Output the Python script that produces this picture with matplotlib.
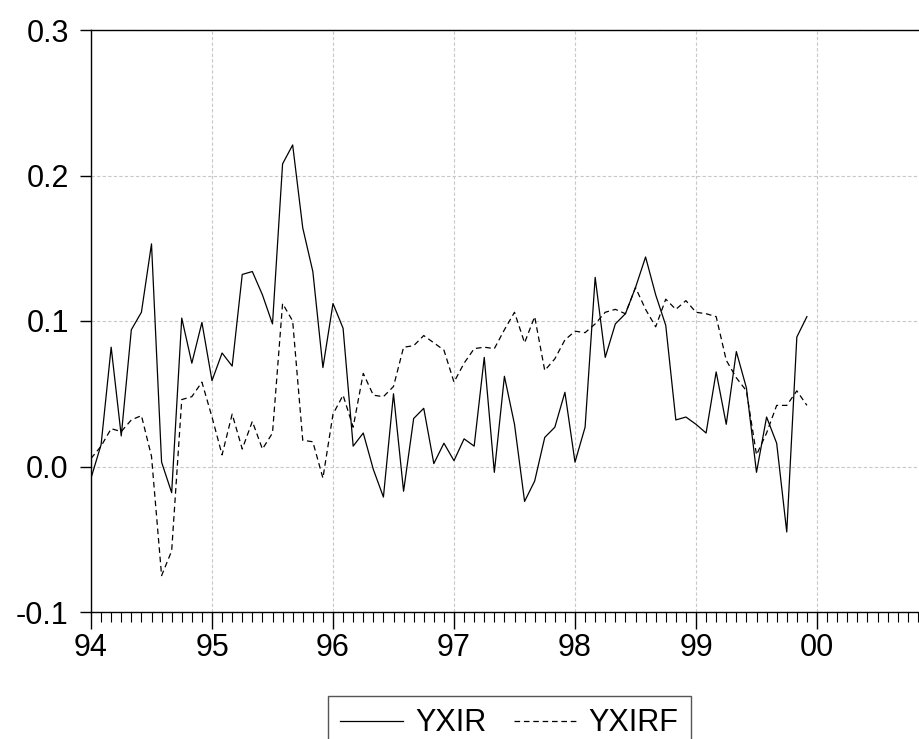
import matplotlib
matplotlib.use("Agg")
import matplotlib.pyplot as plt
import numpy as np
from matplotlib.ticker import FuncFormatter, MultipleLocator

plt.rcParams["font.family"] = ["Liberation Sans", "DejaVu Sans"]

# monthly observations, 1994:01 - 1999:12
start_year = 1994
yxir = [
    -0.008, 0.015, 0.082, 0.021, 0.094, 0.106, 0.153, 0.003, -0.018, 0.102, 0.071, 0.099,
    0.059, 0.078, 0.069, 0.132, 0.134, 0.118, 0.098, 0.208, 0.221, 0.164, 0.134, 0.068,
    0.112, 0.095, 0.014, 0.023, -0.002, -0.021, 0.050, -0.017, 0.033, 0.040, 0.002, 0.016,
    0.004, 0.019, 0.014, 0.075, -0.004, 0.062, 0.029, -0.024, -0.010, 0.020, 0.027, 0.051,
    0.003, 0.027, 0.130, 0.075, 0.098, 0.105, 0.123, 0.144, 0.118, 0.097, 0.032, 0.034,
    0.029, 0.023, 0.065, 0.029, 0.079, 0.054, -0.004, 0.034, 0.016, -0.045, 0.089, 0.103,
]
yxirf = [
    0.0055, 0.014, 0.026, 0.024, 0.032, 0.035, 0.007, -0.075, -0.058, 0.046, 0.048, 0.058,
    0.034, 0.008, 0.036, 0.012, 0.031, 0.012, 0.023, 0.112, 0.100, 0.018, 0.017, -0.008,
    0.036, 0.049, 0.027, 0.064, 0.049, 0.048, 0.055, 0.082, 0.083, 0.090, 0.085, 0.080,
    0.058, 0.071, 0.081, 0.082, 0.081, 0.094, 0.106, 0.085, 0.103, 0.066, 0.074, 0.087,
    0.093, 0.092, 0.098, 0.106, 0.108, 0.105, 0.123, 0.108, 0.096, 0.115, 0.108, 0.114,
    0.106, 0.105, 0.103, 0.073, 0.061, 0.052, 0.008, 0.023, 0.042, 0.042, 0.052, 0.042,
]
series_names = ["YXIR", "YXIRF"]
last_label_year = 2000

x = start_year + np.arange(len(yxir)) / 12.0

W, H = 919, 739
fig = plt.figure(figsize=(W / 100, H / 100), dpi=100)
# axis runs on past the right edge of the picture, as in the original export
left, top, bottom = 91, 30, 612
year_px = 121
ax = fig.add_axes([left / W, (H - bottom) / H, 7 * year_px / W, (bottom - top) / H])

ax.plot(x, yxir, color="black", lw=0.9, label=series_names[0])
ax.plot(x, yxirf, color="black", lw=0.9, dashes=(4.5, 3), label=series_names[1])


def year_label(v, pos):
    year = int(round(v))
    if year > last_label_year:
        return ""
    return f"{year % 100:02d}"


ax.set_xlim(start_year, start_year + 7)
ax.set_ylim(-0.1, 0.3)
ax.xaxis.set_major_locator(MultipleLocator(1))
ax.xaxis.set_minor_locator(MultipleLocator(1 / 12))
ax.yaxis.set_major_locator(MultipleLocator(0.1))
ax.xaxis.set_major_formatter(FuncFormatter(year_label))
ax.yaxis.set_major_formatter(FuncFormatter(lambda v, p: f"{v:.1f}"))

ax.grid(True, which="major", color="#c8c8c8", ls=(0, (3, 2)), lw=0.8)
ax.set_axisbelow(True)
for side in ["left", "top", "bottom"]:
    ax.spines[side].set_linewidth(1.0)
ax.spines["right"].set_visible(False)

ax.tick_params(axis="x", which="major", direction="out", length=12, width=1.0,
               pad=3, labelsize=22, top=False)
ax.tick_params(axis="x", which="minor", direction="out", length=7, width=0.8, top=False)
ax.tick_params(axis="y", which="major", direction="out", length=8, width=1.0,
               pad=8, labelsize=22, right=False)

fig.legend(loc="upper center", bbox_to_anchor=(509.5 / W, (H - 696) / H), ncol=2,
           fontsize=22, frameon=True, fancybox=False, edgecolor="#555555",
           handlelength=2.05, handletextpad=0.4, columnspacing=0.9,
           borderpad=0.4, borderaxespad=0, framealpha=1)

fig.savefig("out.png", dpi=100)
